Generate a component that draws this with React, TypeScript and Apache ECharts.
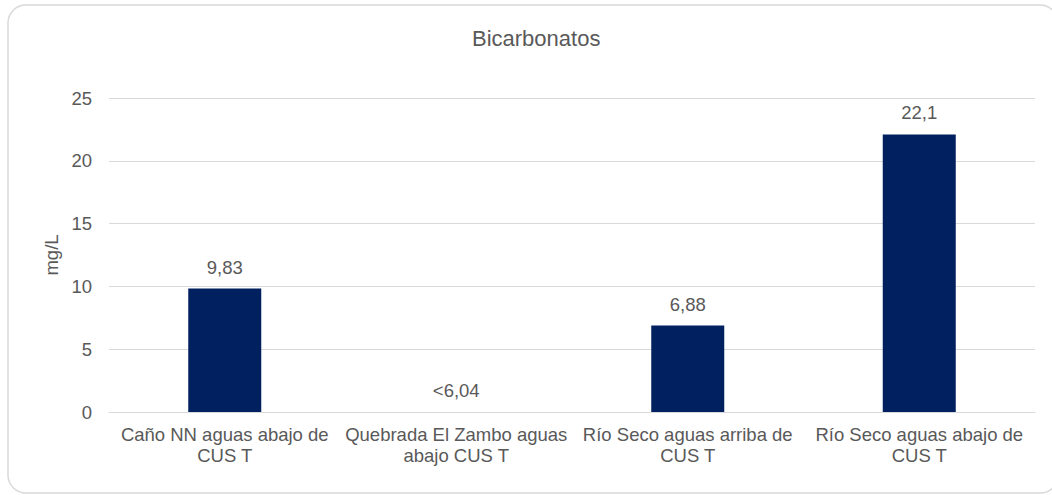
import React, { useEffect, useRef } from "react";
import * as echarts from "echarts";

const title = "Bicarbonatos";
const yAxisName = "mg/L";
const categories = [
  "Caño NN aguas abajo de\nCUS T",
  "Quebrada El Zambo aguas\nabajo CUS T",
  "Río Seco aguas arriba de\nCUS T",
  "Río Seco aguas abajo de\nCUS T",
];
const values = [9.83, 0, 6.88, 22.1];
const valueLabels = ["9,83", "<6,04", "6,88", "22,1"];
const yTicks = { min: 0, max: 25, interval: 5 };

const FONT = "Liberation Sans, Arial, sans-serif";
const TEXT = "#595959";

export default function App() {
  const ref = useRef<HTMLDivElement>(null);
  useEffect(() => {
    if (!ref.current) return;
    const chart = echarts.init(ref.current, null, { renderer: "svg" });
    chart.setOption({
      animation: false,
      backgroundColor: "#ffffff",
      textStyle: { fontFamily: FONT },
      graphic: [
        {
          type: "rect",
          shape: { x: 8, y: 5, width: 1050, height: 488, r: 18 },
          style: { fill: "none", stroke: "#d9d9d9", lineWidth: 1.5 },
          z: -1,
        },
      ],
      title: {
        text: title,
        left: 472,
        top: 27,
        padding: 0,
        textStyle: { fontFamily: FONT, fontSize: 22, fontWeight: "normal", color: TEXT },
      },
      grid: { left: 109, right: 17, top: 98, bottom: 83 },
      xAxis: {
        type: "category",
        data: categories,
        axisTick: { show: false },
        axisLine: { show: true, lineStyle: { color: "#d9d9d9", width: 1 } },
        axisLabel: {
          interval: 0,
          margin: 12,
          color: TEXT,
          fontFamily: FONT,
          fontSize: 18.5,
          lineHeight: 21,
        },
      },
      yAxis: {
        type: "value",
        min: yTicks.min,
        max: yTicks.max,
        interval: yTicks.interval,
        name: yAxisName,
        nameLocation: "middle",
        nameGap: 43,
        nameTextStyle: { color: TEXT, fontFamily: FONT, fontSize: 18.5 },
        axisLine: { show: false },
        axisTick: { show: false },
        axisLabel: { margin: 17, color: TEXT, fontFamily: FONT, fontSize: 18.5 },
        splitLine: { lineStyle: { color: "#d9d9d9", width: 1 } },
      },
      series: [
        {
          type: "bar",
          data: values,
          barWidth: 73,
          itemStyle: { color: "#002060" },
          label: {
            show: true,
            position: "top",
            distance: 12,
            color: TEXT,
            fontFamily: FONT,
            fontSize: 18.5,
            formatter: (p: any) => valueLabels[p.dataIndex],
          },
        },
      ],
    });
    return () => chart.dispose();
  }, []);
  return (
    <div
      ref={ref}
      style={{ position: "absolute", left: 0, top: 0, width: 1052, height: 495 }}
    />
  );
}
